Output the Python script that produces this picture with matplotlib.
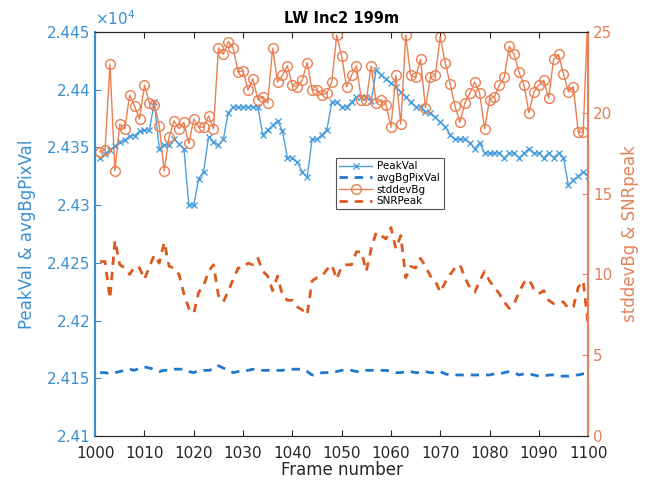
import numpy as np
import matplotlib
matplotlib.use("Agg")
import matplotlib.pyplot as plt
from matplotlib.ticker import FuncFormatter

# frame numbers
frames = np.arange(1001, 1101)

# PeakVal (raw counts)
peak_val = np.array([
    24341, 24344, 24348, 24351, 24355, 24356, 24360, 24360, 24364, 24365,
    24365, 24389, 24349, 24352, 24352, 24357, 24353, 24349, 24300, 24300,
    24323, 24329, 24359, 24355, 24352, 24357, 24380, 24385, 24385, 24385,
    24385, 24385, 24385, 24361, 24365, 24369, 24373, 24364, 24341, 24341,
    24337, 24329, 24324, 24357, 24357, 24361, 24365, 24389, 24389, 24385,
    24385, 24389, 24394, 24394, 24394, 24390, 24417, 24413, 24409, 24406,
    24402, 24398, 24394, 24389, 24385, 24385, 24381, 24380, 24376, 24372,
    24368, 24361, 24357, 24357, 24357, 24354, 24349, 24354, 24345, 24345,
    24345, 24345, 24341, 24345, 24345, 24341, 24345, 24349, 24345, 24345,
    24341, 24345, 24341, 24345, 24341, 24317, 24322, 24325, 24329, 24325])

# avgBgPixVal (raw counts)
avg_bg = np.array([
    24155, 24155, 24154, 24155, 24156, 24157, 24158, 24157, 24159, 24160,
    24159, 24158, 24156, 24157, 24157, 24158, 24158, 24158, 24156, 24155,
    24157, 24157, 24157, 24158, 24161, 24159, 24157, 24155, 24156, 24156,
    24157, 24158, 24157, 24157, 24157, 24157, 24157, 24157, 24158, 24158,
    24158, 24158, 24156, 24153, 24153, 24155, 24155, 24156, 24156, 24157,
    24157, 24157, 24156, 24156, 24157, 24157, 24157, 24157, 24157, 24156,
    24155, 24155, 24156, 24156, 24155, 24155, 24156, 24155, 24155, 24156,
    24154, 24153, 24153, 24153, 24153, 24153, 24153, 24153, 24153, 24153,
    24154, 24154, 24155, 24156, 24155, 24153, 24154, 24154, 24153, 24152,
    24152, 24153, 24153, 24152, 24152, 24152, 24153, 24153, 24154, 24155])

# stddevBg
stddev_bg = np.array([
    17.6, 17.7, 23.0, 16.4, 19.3, 19.0, 21.1, 20.4, 19.6, 21.7,
    20.6, 20.5, 19.2, 16.4, 18.5, 19.5, 19.0, 19.4, 18.1, 19.6,
    19.1, 19.1, 19.8, 19.0, 24.0, 23.6, 24.4, 24.0, 22.5, 22.6,
    21.4, 22.1, 20.8, 21.0, 20.6, 24.0, 21.9, 22.3, 22.9, 21.7,
    21.6, 22.0, 23.1, 21.4, 21.4, 21.1, 21.2, 21.9, 24.8, 23.5,
    21.6, 22.3, 22.9, 20.8, 20.8, 22.9, 20.6, 20.8, 20.5, 19.1,
    22.3, 19.3, 24.8, 22.3, 22.2, 23.3, 20.3, 22.2, 22.3, 24.7,
    23.1, 21.8, 20.4, 19.4, 20.6, 21.2, 21.9, 21.2, 19.0, 20.8,
    21.0, 21.7, 22.2, 24.1, 23.6, 22.5, 21.7, 20.0, 21.3, 21.7,
    22.0, 20.9, 23.3, 23.6, 22.4, 21.3, 21.6, 18.8, 18.8, 26.5])

# SNRPeak
snr_peak = np.array([
    10.8, 10.8, 8.5, 12.1, 10.6, 10.4, 10.0, 10.5, 10.4, 9.7,
    10.5, 11.2, 10.7, 12.0, 10.5, 10.4, 10.0, 8.8, 7.9, 7.6,
    8.9, 9.3, 10.2, 10.6, 8.7, 8.3, 9.0, 9.7, 10.4, 10.4,
    10.7, 10.6, 11.0, 10.2, 9.9, 9.0, 9.9, 8.7, 8.4, 8.4,
    8.0, 7.8, 7.5, 9.6, 9.8, 9.9, 10.3, 10.6, 9.7, 10.5,
    10.6, 10.6, 11.4, 11.4, 10.2, 11.6, 12.6, 12.4, 12.2, 12.9,
    11.6, 12.4, 9.8, 10.5, 10.4, 11.0, 10.5, 9.9, 9.6, 8.9,
    9.5, 10.0, 10.4, 10.6, 9.8, 9.2, 8.9, 9.6, 10.2, 9.6,
    9.2, 8.8, 8.3, 7.9, 8.2, 8.9, 9.5, 9.7, 9.1, 8.8,
    9.0, 8.4, 8.2, 8.3, 8.3, 7.9, 8.0, 9.2, 9.6, 6.9])

left_ticks = np.arange(24100, 24451, 50)
right_ticks = [0, 5, 10, 15, 20, 25]
x_ticks = np.arange(1000, 1101, 10)

c_left = "#3a8fd0"
c_right = "#e3825a"
c_peak = "#4a9fdc"
c_avg = "#1f78c8"
c_std = "#ea7f52"
c_snr = "#dc5a1e"

fig = plt.figure(figsize=(6.52, 4.82), dpi=100)
ax = fig.add_axes([0.146, 0.095, 0.756, 0.839])
ax2 = ax.twinx()

l1, = ax.plot(frames, peak_val, "-x", color=c_peak, lw=1.0, ms=5, mew=1.0, label="PeakVal")
l2, = ax.plot(frames, avg_bg, "--", color=c_avg, lw=2.0, dashes=(3, 2.5), label="avgBgPixVal")
l3, = ax2.plot(frames, stddev_bg, "-o", color=c_std, lw=1.0, ms=7, mfc="none", mew=1.0, label="stddevBg")
l4, = ax2.plot(frames, snr_peak, "--", color=c_snr, lw=2.0, dashes=(3, 2.5), label="SNRPeak")

ax.set_xlim(1000, 1100)
ax.set_ylim(24100, 24450)
ax2.set_ylim(0, 25)
ax.set_xticks(x_ticks)
ax.set_yticks(left_ticks)
ax2.set_yticks(right_ticks)
ax.yaxis.set_major_formatter(FuncFormatter(lambda v, p: f"{v / 1e4:g}"))

ax.tick_params(axis="x", direction="in", top=True, labelsize=11, colors="#262626", length=4, pad=7)
ax.tick_params(axis="y", direction="in", labelsize=11, colors=c_left, length=4)
ax2.tick_params(axis="y", direction="in", labelsize=11, colors=c_right, length=4)

for a in (ax, ax2):
    a.spines["left"].set_color(c_left)
    a.spines["right"].set_color(c_right)
    a.spines["top"].set_color("#262626")
    a.spines["bottom"].set_color("#262626")
    a.spines["left"].set_linewidth(1.5)
    a.spines["right"].set_linewidth(1.5)
    a.spines["top"].set_linewidth(0.8)
    a.spines["bottom"].set_linewidth(0.8)

ax.set_xlabel("Frame number", fontsize=12, color="#262626", labelpad=0)
ax.set_ylabel("PeakVal & avgBgPixVal", fontsize=12, color=c_left, labelpad=8)
ax2.set_ylabel("stddevBg & SNRpeak", fontsize=12, color=c_right, labelpad=6)
ax.set_title("LW Inc2 199m", fontsize=10.5, fontweight="bold", pad=6)
ax.text(0.0, 1.01, r"$\times10^4$", transform=ax.transAxes, color=c_left,
        fontsize=11, ha="left", va="bottom")

leg = ax2.legend(handles=[l1, l2, l3, l4], loc="upper left",
                 bbox_to_anchor=(0.478, 0.70), fontsize=7.5, frameon=True,
                 fancybox=False, edgecolor="#262626", handlelength=3.2,
                 borderpad=0.3, labelspacing=0.15, handletextpad=0.4)
leg.get_frame().set_linewidth(0.8)

fig.savefig("out.png", dpi=100)
